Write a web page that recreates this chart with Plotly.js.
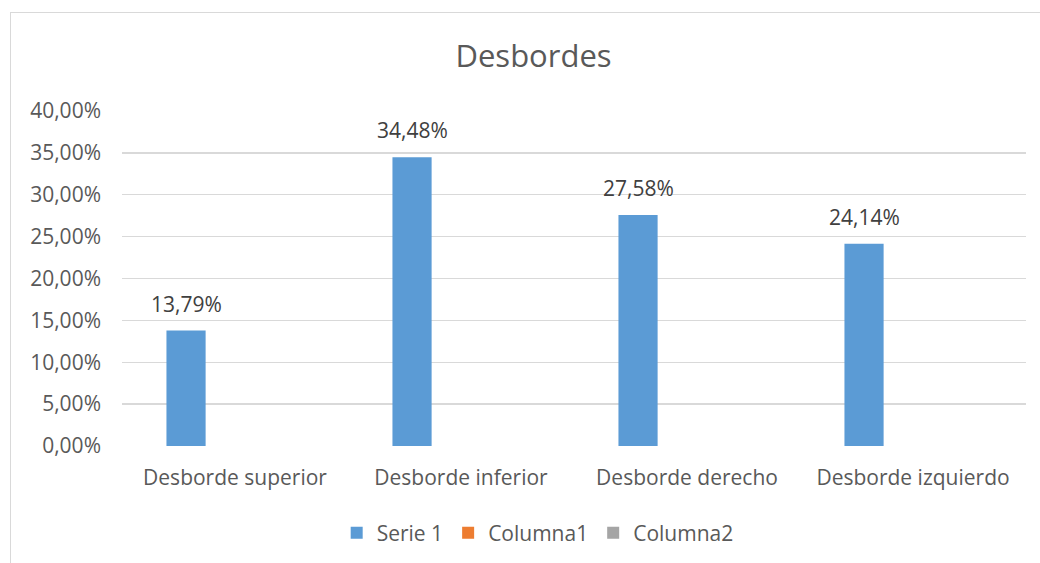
<!DOCTYPE html>
<html>
<head>
<meta charset="utf-8">
<script src="https://cdn.plot.ly/plotly-3.0.1.min.js"></script>
<style>
  html, body { margin: 0; padding: 0; background: #fff; overflow: hidden; }
  #wrap { position: relative; width: 1040px; height: 563px; overflow: hidden; }
  #chart { position: absolute; left: 0; top: 0; width: 1040px; height: 563px; }
  #frame { position: absolute; left: 10px; top: 12px; width: 1100px; height: 700px;
           border: 1px solid #d9d9d9; pointer-events: none; }
</style>
</head>
<body>
<div id="wrap">
  <div id="chart"></div>
  <div id="frame"></div>
</div>
<script>
const categories = ["Desborde superior", "Desborde inferior", "Desborde derecho", "Desborde izquierdo"];
const serie1 = [0.1379, 0.3448, 0.2758, 0.2414];
const columna1 = [null, null, null, null];
const columna2 = [null, null, null, null];
const seriesNames = ["Serie 1", "Columna1", "Columna2"];
const yTicks = [0, 0.05, 0.10, 0.15, 0.20, 0.25, 0.30, 0.35, 0.40];

const FONT = "Open Sans, sans-serif";

const traces = [
  { type: "bar", name: seriesNames[0], x: categories, y: serie1, marker: { color: "#5B9BD5" } },
  { type: "bar", name: seriesNames[1], x: categories, y: columna1, marker: { color: "#ED7D31" } },
  { type: "bar", name: seriesNames[2], x: categories, y: columna2, marker: { color: "#A5A5A5" } }
];

const annotations = categories.map((c, i) => ({
  x: c, y: serie1[i], xref: "x", yref: "y",
  text: (serie1[i] * 100).toFixed(2).replace(".", ",") + "%",
  showarrow: false, xanchor: "center", yanchor: "bottom",
  xshift: -49, yshift: 11,
  font: { family: FONT, size: 21, color: "#404040" }
}));

const layout = {
  width: 1040, height: 563,
  paper_bgcolor: "rgba(0,0,0,0)", plot_bgcolor: "rgba(0,0,0,0)",
  separators: ",.",
  margin: { l: 122, r: 14, t: 111, b: 117, autoexpand: false },
  font: { family: FONT, color: "#595959" },
  title: {
    text: "Desbordes",
    font: { family: FONT, size: 31, color: "#595959" },
    x: 0.513, xref: "container", xanchor: "center",
    y: 0.901, yref: "container", yanchor: "middle"
  },
  barmode: "group", bargap: 0.35, bargroupgap: 0.2,
  xaxis: {
    type: "category",
    tickfont: { family: FONT, size: 21, color: "#595959" },
    showgrid: false, zeroline: false, showline: false, ticks: "",
    ticklabelstandoff: 17
  },
  yaxis: {
    range: [0, 0.40],
    tickvals: yTicks, tickformat: ".2%",
    tickfont: { family: FONT, size: 21, color: "#595959" },
    showgrid: true, gridcolor: "#d9d9d9", gridwidth: 1.3,
    zeroline: false, showline: false, ticks: "",
    ticklabelstandoff: 20
  },
  showlegend: true,
  legend: {
    orientation: "h",
    xref: "container", x: 0.517, xanchor: "center",
    yref: "container", y: 0.0533, yanchor: "middle",
    font: { family: FONT, size: 21, color: "#595959" },
    itemwidth: 30, traceorder: "normal"
  },
  annotations: annotations
};

Plotly.newPlot("chart", traces, layout, { displayModeBar: false, staticPlot: true });
</script>
</body>
</html>
